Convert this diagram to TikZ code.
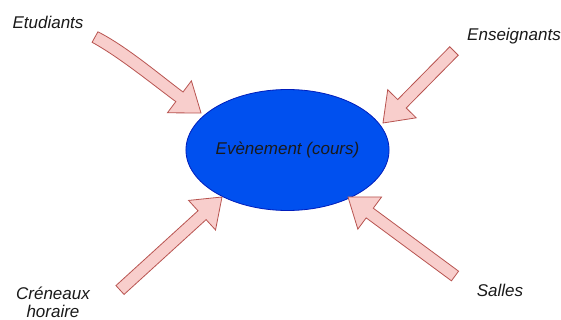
\documentclass[tikz,border=0pt]{standalone}
\usepackage{fontspec}
\setmainfont{Liberation Sans}
\usetikzlibrary{calc,shapes.geometric}
\definecolor{evfill}{HTML}{0050EF}
\definecolor{evdraw}{HTML}{001DBC}
\definecolor{arfill}{HTML}{F8CECC}
\definecolor{ardraw}{HTML}{B85450}
\definecolor{txt}{HTML}{1A1A1A}
\tikzset{
  lbl/.style={font=\fontsize{17}{18}\selectfont\itshape, text=txt, inner sep=0pt, align=center},
  blockarr/.style={fill=arfill, draw=ardraw, line width=0.8pt, line join=miter},
  evstyle/.style={ellipse, fill=evfill, draw=evdraw, line width=0.8pt, minimum width=201pt, minimum height=121pt, inner sep=0pt, font=\fontsize{17}{18}\selectfont\itshape, text=txt}
}
\newcommand\blockarrow[2]{%
  \coordinate (#1-#2-b) at ($(#2)!27pt!(#1)$);
  \draw[blockarr] ($(#1)!6pt!90:(#2)$) -- ($(#1-#2-b)!6pt!90:(#2)$) -- ($(#1-#2-b)!20pt!90:(#2)$) -- (#2)
    -- ($(#1-#2-b)!20pt!-90:(#2)$) -- ($(#1-#2-b)!6pt!-90:(#2)$) -- ($(#1)!6pt!-90:(#2)$) -- cycle;
}
\begin{document}
\begin{tikzpicture}[x=1pt,y=-1pt]
\useasboundingbox (0,0) rectangle (561,320);
\fill[white] (0,0) rectangle (561,320);
\node[evstyle] (ev) at (287.5,150) {Evènement (cours)};
\node[lbl] (etu) at (48,22) {Etudiants};
\node[lbl] (ens) at (514,36) {Enseignants};
\node[lbl] (cre) at (53,302) {Créneaux\\horaire};
\node[lbl] (sal) at (500,290) {Salles};
% curved block arrow (Etudiants)
\coordinate (p1) at (201,113);
\coordinate (h1a) at (191.4,80.8);  \coordinate (h1b) at (167.4,112.8);
\coordinate (j1a) at (183,92);      \coordinate (j1b) at (175.8,101.6);
\coordinate (t1a) at (97.9,31.8);   \coordinate (t1b) at (92.1,42.3);
\draw[blockarr] (t1a) .. controls (126,46) and (159,74) .. (j1a) -- (h1a) -- (p1) -- (h1b) -- (j1b)
  .. controls (152,84) and (119,57) .. (t1b) -- cycle;
\coordinate (t2) at (454,51); \coordinate (p2) at (383,123);
\coordinate (t3) at (120,290); \coordinate (p3) at (222,197);
\coordinate (t4) at (455,276); \coordinate (p4) at (348,197);
\blockarrow{t2}{p2}
\blockarrow{t3}{p3}
\blockarrow{t4}{p4}
\end{tikzpicture}
\end{document}
